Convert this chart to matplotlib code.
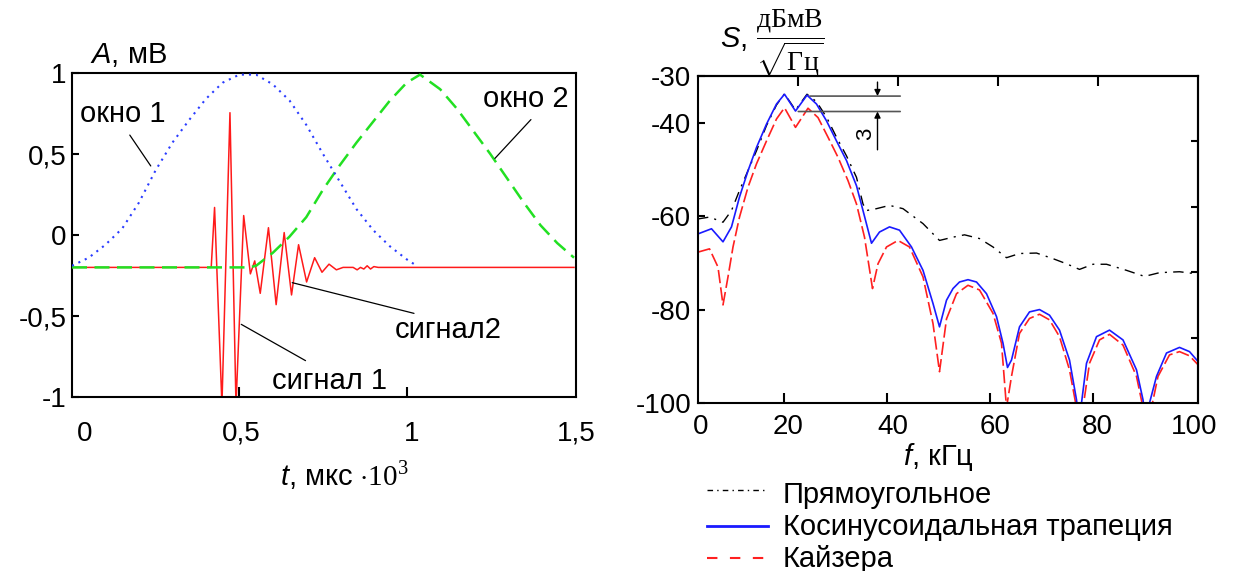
import matplotlib
matplotlib.use("Agg")
import matplotlib.pyplot as plt
from matplotlib.lines import Line2D

plt.rcParams['font.family'] = ['Liberation Sans', 'DejaVu Sans']
plt.rcParams['mathtext.fontset'] = 'custom'
plt.rcParams['mathtext.rm'] = 'Liberation Serif'
plt.rcParams['mathtext.it'] = 'Liberation Sans:italic'
plt.rcParams['mathtext.bf'] = 'Liberation Serif:bold'

# ---- левый график: окна и сигналы (t, мкс*10^3 ; A, мВ)
t_okno1 = [0.00, 0.05, 0.10, 0.15, 0.20, 0.25, 0.30, 0.35, 0.40, 0.45, 0.50,
           0.55, 0.60, 0.65, 0.70, 0.75, 0.80, 0.85, 0.90, 0.95, 1.00, 1.03]
okno1 = [-0.19, -0.14, -0.06, 0.04, 0.20, 0.40, 0.57, 0.71, 0.84, 0.94, 0.99,
         0.99, 0.93, 0.83, 0.68, 0.50, 0.33, 0.16, 0.03, -0.07, -0.15, -0.19]

t_okno2 = [0.00, 0.53, 0.55, 0.60, 0.65, 0.70, 0.75, 0.80, 0.85, 0.90, 0.95,
           1.00, 1.04, 1.10, 1.15, 1.20, 1.25, 1.30, 1.35, 1.40, 1.45, 1.50]
okno2 = [-0.20, -0.20, -0.19, -0.11, -0.01, 0.11, 0.28, 0.43, 0.57, 0.70, 0.83,
         0.94, 0.99, 0.90, 0.78, 0.64, 0.50, 0.35, 0.20, 0.06, -0.05, -0.14]

t_sig = [0.0, 0.416, 0.426, 0.448, 0.472, 0.490, 0.513, 0.533, 0.546, 0.5625,
         0.587, 0.610, 0.634, 0.656, 0.677, 0.701, 0.725, 0.747, 0.768, 0.79,
         0.81, 0.84, 0.852, 0.862, 0.872, 0.882, 0.892, 0.902, 0.915, 1.5]
sig = [-0.2, -0.2, 0.17, -1.05, 0.755, -1.05, 0.12, -0.24, -0.16, -0.36,
       0.045, -0.43, 0.015, -0.37, -0.06, -0.29, -0.14, -0.23, -0.18, -0.215,
       -0.2, -0.2, -0.215, -0.2, -0.21, -0.19, -0.21, -0.195, -0.2, -0.2]

x1_labels = ['0', '0,5', '1', '1,5']
y1_ticks = [-1, -0.5, 0, 0.5, 1]
y1_labels = ['-1', '-0,5', '0', '0,5', '1']

# ---- правый график: спектры (f, кГц ; S, дБмВ/sqrt(Гц))
f_rect = [0, 2.3, 5.0, 6.7, 8.3, 10.3, 11.7, 13.7, 15.7, 17.3, 19.5, 21.8,
          23.7, 25.7, 27.7, 29.7, 31.7, 33.0, 33.7, 35.7, 38.3, 41.0, 45.0,
          48.3, 51.0, 53.3, 56.3, 59.0, 61.7, 64.3, 67.7, 71.0, 73.7, 76.3,
          79.0, 81.7, 85.7, 89.3, 92.3, 96.3, 100]
s_rect = [-60.6, -60.2, -61.3, -58.8, -54.5, -49.5, -46.0, -40.6, -36.2, -33.8,
          -37.3, -33.9, -35.5, -38.8, -43.1, -47.1, -51.7, -57.4, -58.8, -58.4,
          -57.7, -58.4, -61.6, -65.2, -64.5, -64.0, -64.8, -66.6, -68.9, -68.0,
          -67.9, -69.1, -70.2, -71.4, -70.3, -70.3, -71.6, -72.9, -72.1, -71.9,
          -72.4]

f_cos = [0, 2.7, 5.0, 6.7, 8.3, 10.0, 11.7, 13.7, 15.7, 17.3, 19.5, 21.8, 23.7,
         25.7, 27.7, 29.7, 31.7, 33.0, 34.7, 36.3, 38.3, 40.3, 42.7, 45.0, 47.0,
         48.3, 49.7, 51.0, 52.3, 54.0, 55.7, 57.7, 59.7, 61.0, 61.9, 62.7, 64.3,
         66.3, 68.3, 70.3, 72.3, 74.3, 75.7, 76.2, 76.7, 77.7, 79.7, 82.3, 85.0,
         87.7, 89.0, 89.5, 90.3, 91.7, 93.7, 96.3, 98.3, 100]
s_cos = [-63.8, -62.7, -65.5, -62.3, -55.9, -50.3, -45.3, -40.3, -36.0, -33.9,
         -37.5, -34.1, -36.0, -39.6, -43.9, -48.1, -53.5, -58.8, -65.8, -63.4,
         -62.3, -63.0, -66.6, -71.6, -78.7, -83.7, -78.0, -75.5, -74.1, -73.6,
         -74.1, -76.6, -81.5, -87.2, -92.4, -90.8, -83.7, -80.5, -80.0, -81.2,
         -84.4, -90.8, -99.3, -104.0, -100.0, -91.5, -85.8, -84.4, -86.5, -92.9,
         -99.3, -104.0, -100.0, -94.3, -89.3, -88.1, -89.0, -91.1]

f_kai = [0, 2.3, 4.0, 5.0, 6.0, 7.0, 8.3, 10.0, 11.7, 13.7, 15.7, 17.3, 19.5,
         22.0, 24.0, 26.0, 28.0, 30.0, 31.7, 33.3, 34.9, 36.0, 37.7, 40.0, 42.3,
         45.0, 47.0, 48.3, 49.7, 51.7, 54.0, 56.3, 59.0, 60.7, 61.7, 62.7, 64.3,
         66.3, 68.3, 70.3, 72.3, 74.3, 75.7, 77.0, 78.3, 80.3, 82.3, 85.0, 87.7,
         89.0, 90.7, 92.0, 94.3, 96.3, 98.3, 100]
s_kai = [-67.7, -67.0, -70.9, -79.0, -73.0, -66.6, -60.2, -53.8, -48.8, -43.9,
         -39.2, -36.8, -41.0, -36.9, -38.9, -43.1, -47.4, -52.4, -57.4, -64.5,
         -75.5, -70.2, -66.6, -65.2, -66.6, -73.0, -83.0, -93.3, -82.0, -76.6,
         -74.8, -75.8, -80.8, -87.2, -101.0, -94.3, -85.1, -81.9, -81.0, -82.2,
         -85.8, -92.9, -101.0, -101.0, -91.5, -86.5, -85.3, -87.6, -94.3, -101.0,
         -101.0, -94.3, -89.7, -89.0, -89.9, -91.8]

x2_labels = ['0', '20', '40', '60', '80', '100']
y2_ticks = [-100, -80, -60, -40, -30]
y2_labels = ['-100', '-80', '-60', '-40', '-30']
legend_names = ['Прямоугольное', 'Косинусоидальная трапеция', 'Кайзера']

W, H = 1234, 571
fig = plt.figure(figsize=(W / 100, H / 100), dpi=100)


def fx(x):
    return x / W


def fy(y):
    return 1 - y / H


# ---------- левый график
ax1 = fig.add_axes([fx(72), fy(397), 504 / W, 324 / H])
ax1.plot(t_sig, sig, color='#ff1a1a', lw=1.1, zorder=2)
ax1.plot(t_okno2, okno2, color='#22e022', lw=1.8, dashes=(6, 3), zorder=3)
ax1.plot(t_okno1, okno1, color='#2a3cff', lw=1.5, dashes=(1, 2.4), zorder=3)
ax1.set_xlim(0, 1.5)
ax1.set_ylim(-1, 1)
ax1.set_yticks(y1_ticks, y1_labels)
ax1.set_xticks([0.037, 0.506, 1.015, 1.506], x1_labels)
ax1.set_xticks([0.5, 1.0], minor=True)
ax1.tick_params(axis='y', direction='in', length=5, width=1.5, labelsize=20, pad=4)
ax1.tick_params(axis='x', which='major', length=0, labelsize=20, pad=17)
ax1.tick_params(axis='x', which='minor', direction='in', length=7, width=1.5)
for sp in ax1.spines.values():
    sp.set_linewidth(1.5)

ax1.annotate('', xy=(0.240, 0.412), xytext=(0.168, 0.631),
             arrowprops=dict(arrowstyle='-', color='black', lw=0.9))
ax1.annotate('', xy=(1.258, 0.46), xytext=(1.377, 0.725),
             arrowprops=dict(arrowstyle='-', color='black', lw=0.9))
ax1.annotate('', xy=(0.650, -0.29), xytext=(1.030, -0.488),
             arrowprops=dict(arrowstyle='-', color='black', lw=0.9))
ax1.annotate('', xy=(0.4985, -0.543), xytext=(0.705, -0.784),
             arrowprops=dict(arrowstyle='-', color='black', lw=0.9))
fig.text(fx(80), fy(122), 'окно 1', fontsize=21, va='baseline')
fig.text(fx(483), fy(107), 'окно 2', fontsize=21, va='baseline')
fig.text(fx(395), fy(338), 'сигнал2', fontsize=21, va='baseline')
fig.text(fx(272), fy(389), 'сигнал 1', fontsize=21, va='baseline')

fig.text(fx(90), fy(63), r'$\mathit{A}$, мВ', fontsize=21, va='baseline')
fig.text(fx(280), fy(485), r'$\mathit{t}$, мкс $\cdot10^{3}$', fontsize=21, va='baseline')

# ---------- правый график
ax2 = fig.add_axes([fx(698), fy(403), 500 / W, 327 / H])
ax2.plot(f_rect, s_rect, color='black', lw=1.0, dashes=(7.5, 4.5, 1.5, 4.5))
ax2.plot(f_kai, s_kai, color='#ff2020', lw=1.2, dashes=(8, 2.5))
ax2.plot(f_cos, s_cos, color='#1a1aff', lw=1.2)
ax2.set_xlim(0, 100)
ax2.set_ylim(-100, -30)
ax2.set_yticks(y2_ticks, y2_labels)
ax2.set_xticks([0.6, 18.0, 38.9, 59.5, 79.9, 99.2], x2_labels)
ax2.set_xticks([17.2, 37.9, 58.5, 79.0], minor=True)
ax2.tick_params(axis='y', direction='in', length=5, width=1.5, labelsize=20, pad=5)
ax2.tick_params(axis='x', which='major', length=0, labelsize=20, pad=8)
ax2.tick_params(axis='x', which='minor', direction='in', length=7, width=1.5)
for sp in ax2.spines.values():
    sp.set_linewidth(1.5)

ax2t = ax2.secondary_xaxis('top')
ax2t.set_xticks([20, 40, 60, 80], [''] * 4)
ax2t.tick_params(direction='in', length=7, width=1.5)
ax2r = ax2.secondary_yaxis('right')
ax2r.set_yticks([-86, -72, -58, -44], [''] * 4)
ax2r.tick_params(direction='in', length=5, width=1.5)
for a in (ax2t, ax2r):
    for sp in a.spines.values():
        sp.set_linewidth(1.5)

# уровень 3 дБ между пиками
ax2.annotate('', xy=(21.8, -34.3), xytext=(41, -34.3),
             arrowprops=dict(arrowstyle='-', color='#555555', lw=1.2))
ax2.annotate('', xy=(19.5, -37.6), xytext=(41, -37.6),
             arrowprops=dict(arrowstyle='-', color='#555555', lw=1.2))
ax2.annotate('', xy=(35.9, -34.3), xytext=(35.9, -31.3),
             arrowprops=dict(arrowstyle='-|>', color='black', lw=1.0,
                             mutation_scale=9, shrinkA=0, shrinkB=0))
ax2.annotate('', xy=(35.9, -37.6), xytext=(35.9, -45.8),
             arrowprops=dict(arrowstyle='-|>', color='black', lw=1.0,
                             mutation_scale=9, shrinkA=0, shrinkB=0))
ax2.text(33.6, -42.3, '3', fontsize=16, rotation=90, ha='center', va='center')

fig.text(fx(720), fy(47), r'$\mathit{S}$,', fontsize=21, va='baseline')
fig.text(fx(790), fy(43), r'$\dfrac{\mathrm{дБмВ}}{\sqrt{\mathrm{Гц}}}$',
         fontsize=20, ha='center', va='center')
fig.text(fx(903), fy(465), r'$\mathit{f}$, кГц', fontsize=21, va='baseline')

# ---------- легенда
leg_styles = [dict(color='black', lw=1.0, dashes=(4, 3, 1, 3)),
              dict(color='#1a1aff', lw=2.0),
              dict(color='#ff2020', lw=1.5, dashes=(5, 6))]
leg_line_y = [490, 526, 558]
leg_text_y = [503, 535, 567]
for name, st, ly, ty in zip(legend_names, leg_styles, leg_line_y, leg_text_y):
    fig.add_artist(Line2D([fx(707), fx(768)], [fy(ly), fy(ly)], **st))
    fig.text(fx(783), fy(ty), name, fontsize=21, va='baseline')

fig.savefig('out.png', dpi=100)
